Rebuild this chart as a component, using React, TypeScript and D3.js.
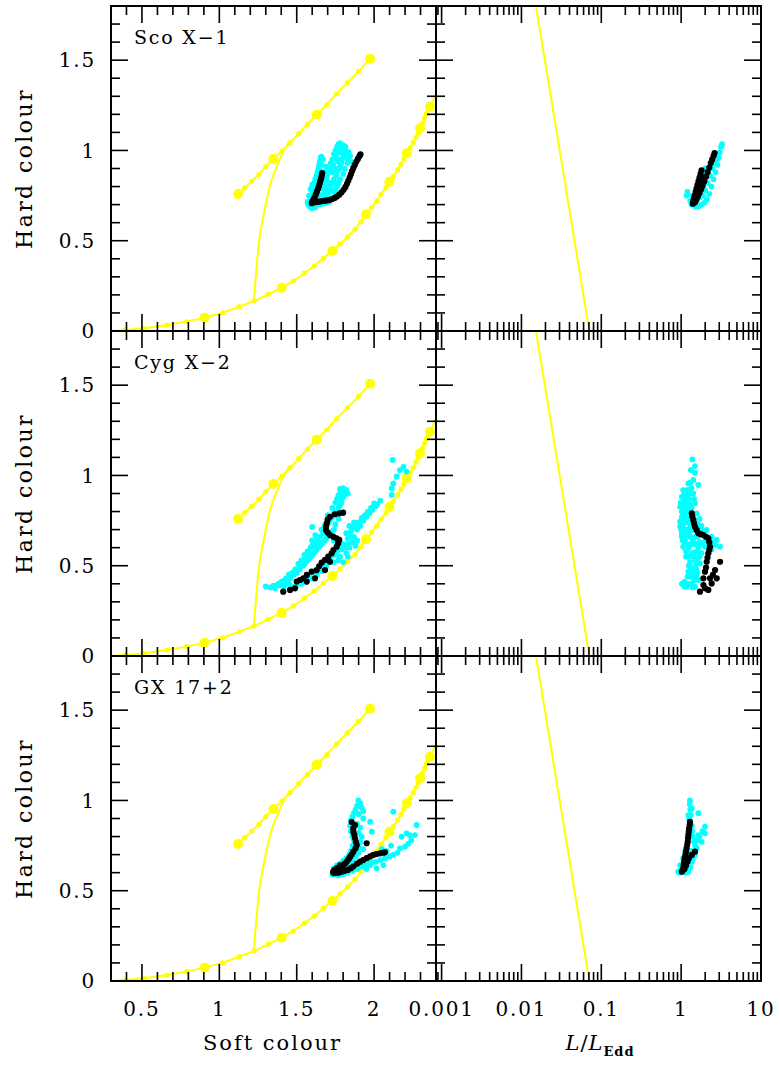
import React from 'react';
import * as d3 from 'd3';

// ---------- model tracks (soft colour, hard colour) ----------
const upperTrack: [number, number][] = [
  [1.121, 0.759], [1.164, 0.794], [1.209, 0.829], [1.256, 0.868], [1.300, 0.910],
  [1.349, 0.953], [1.405, 0.997], [1.457, 1.043], [1.513, 1.093], [1.569, 1.145],
  [1.629, 1.198], [1.694, 1.253], [1.758, 1.314], [1.827, 1.375], [1.900, 1.438],
  [1.974, 1.508],
];
const upperTrackLarge: [number, number][] = [
  [1.121, 0.759], [1.349, 0.953], [1.629, 1.198], [1.974, 1.508],
];
const lowerTrack: [number, number][] = [
  [0.30, 0.0], [0.390, 0.006], [0.515, 0.015], [0.660, 0.033], [0.789, 0.052],
  [0.905, 0.074], [1.022, 0.101], [1.129, 0.135], [1.224, 0.166], [1.316, 0.203],
  [1.403, 0.240], [1.478, 0.277], [1.549, 0.320], [1.614, 0.360], [1.672, 0.403],
  [1.730, 0.443], [1.780, 0.482], [1.829, 0.522], [1.877, 0.563], [1.915, 0.605],
  [1.948, 0.646], [1.984, 0.685], [2.017, 0.720], [2.045, 0.757], [2.077, 0.794],
  [2.099, 0.827], [2.124, 0.855], [2.152, 0.892], [2.174, 0.923], [2.193, 0.953],
  [2.211, 0.984], [2.232, 1.013], [2.253, 1.043], [2.271, 1.073], [2.286, 1.098],
  [2.297, 1.123], [2.312, 1.150], [2.326, 1.178], [2.338, 1.203], [2.350, 1.224],
  [2.361, 1.242], [2.40, 1.31],
];
const lowerTrackLarge: [number, number][] = [
  [0.905, 0.074], [1.403, 0.240], [1.730, 0.443], [1.948, 0.646], [2.099, 0.827],
  [2.211, 0.984], [2.297, 1.123], [2.361, 1.242],
];
const connectorTrack: [number, number][] = [
  [1.224, 0.166], [1.230, 0.245], [1.241, 0.356], [1.258, 0.504], [1.280, 0.615],
  [1.306, 0.726], [1.338, 0.836], [1.375, 0.919], [1.413, 0.993], [1.446, 1.040],
];
// (L/LEdd, hard colour)
const eddLine: [number, number][] = [[0.0152, 1.8], [0.0708, 0.0]];

// ---------- Sco X-1 ----------
const scoColourCyan: [number, number][] = [
  [1.575, 0.70], [1.585, 0.72], [1.59, 0.74], [1.60, 0.76], [1.605, 0.78], [1.61, 0.80],
  [1.615, 0.82], [1.62, 0.84], [1.628, 0.86], [1.635, 0.88], [1.64, 0.90], [1.645, 0.92],
  [1.65, 0.94], [1.655, 0.96], [1.66, 0.965], [1.57, 0.715], [1.58, 0.75], [1.59, 0.785],
  [1.60, 0.81], [1.585, 0.69], [1.60, 0.68], [1.62, 0.685], [1.67, 0.76], [1.68, 0.80],
  [1.69, 0.84], [1.70, 0.87], [1.71, 0.90], [1.72, 0.93], [1.73, 0.95], [1.74, 0.98],
  [1.75, 1.00], [1.76, 1.02], [1.77, 1.035], [1.78, 1.04], [1.68, 0.74], [1.70, 0.76],
  [1.72, 0.80], [1.74, 0.84], [1.76, 0.88], [1.78, 0.92], [1.79, 0.95], [1.80, 0.98],
  [1.82, 0.97], [1.83, 0.95], [1.835, 0.99], [1.81, 1.00], [1.795, 1.02], [1.765, 0.94],
  [1.745, 0.90], [1.73, 0.88], [1.71, 0.82], [1.70, 0.79], [1.69, 0.78], [1.66, 0.74],
  [1.65, 0.75], [1.67, 0.79], [1.68, 0.83], [1.75, 0.78], [1.77, 0.82], [1.66, 0.82],
  [1.67, 0.86], [1.68, 0.88], [1.69, 0.91],
  [1.62, 0.72], [1.63, 0.70], [1.64, 0.73], [1.65, 0.70], [1.67, 0.705], [1.69, 0.71],
  [1.71, 0.715], [1.62, 0.78], [1.63, 0.82], [1.64, 0.86], [1.65, 0.89], [1.66, 0.92],
  [1.67, 0.95], [1.61, 0.76], [1.595, 0.72], [1.675, 0.82], [1.695, 0.86], [1.705, 0.88],
  [1.725, 0.91], [1.735, 0.92], [1.755, 0.96], [1.77, 0.99], [1.785, 1.01], [1.80, 1.03],
  [1.815, 1.02], [1.82, 0.99], [1.805, 0.96], [1.79, 0.93], [1.775, 0.90], [1.755, 0.86],
  [1.735, 0.82], [1.72, 0.78], [1.705, 0.75], [1.74, 0.77], [1.76, 0.80], [1.78, 0.84],
  [1.80, 0.87], [1.81, 0.90], [1.83, 0.93], [1.845, 0.97], [1.85, 0.94],
];
const scoColourBlack: [number, number][] = [
  [1.665, 0.875], [1.662, 0.86], [1.658, 0.845], [1.652, 0.83], [1.648, 0.815], [1.643, 0.80],
  [1.637, 0.785], [1.630, 0.77], [1.623, 0.755], [1.615, 0.74], [1.608, 0.727], [1.600, 0.715],
  [1.598, 0.708], [1.610, 0.712], [1.625, 0.715], [1.640, 0.716], [1.655, 0.718], [1.670, 0.72],
  [1.685, 0.722], [1.700, 0.724], [1.715, 0.727], [1.730, 0.731], [1.745, 0.737], [1.760, 0.745],
  [1.775, 0.755], [1.790, 0.768], [1.803, 0.782], [1.815, 0.798], [1.825, 0.815], [1.833, 0.832],
  [1.842, 0.85], [1.850, 0.868], [1.858, 0.886], [1.866, 0.903], [1.875, 0.92], [1.885, 0.937],
  [1.895, 0.953], [1.905, 0.968], [1.912, 0.978],
];
const scoLumCyan: [number, number][] = [
  [1.17, 0.75], [1.20, 0.77], [1.35, 0.70], [1.50, 0.69], [1.65, 0.69], [1.80, 0.70],
  [1.95, 0.71], [2.10, 0.73], [2.25, 0.76], [2.40, 0.80], [2.55, 0.84], [2.70, 0.88],
  [2.85, 0.92], [2.95, 0.96], [3.05, 0.99], [3.15, 1.02], [3.25, 1.035], [2.80, 0.95],
  [2.60, 0.93], [2.45, 0.90], [2.30, 0.86], [2.15, 0.82], [2.00, 0.78], [1.85, 0.75],
  [1.70, 0.74], [1.55, 0.74], [1.60, 0.79], [1.70, 0.82], [1.80, 0.855], [1.90, 0.88],
  [2.00, 0.90], [1.30, 0.72], [1.38, 0.75],
];
const scoLumBlack: [number, number][] = [
  [1.40, 0.705], [1.42, 0.72], [1.45, 0.735], [1.48, 0.75], [1.52, 0.77], [1.56, 0.79],
  [1.60, 0.81], [1.65, 0.83], [1.70, 0.85], [1.75, 0.87], [1.80, 0.89], [1.50, 0.715],
  [1.55, 0.725], [1.62, 0.745], [1.70, 0.765], [1.78, 0.785], [1.86, 0.805], [1.95, 0.83],
  [2.05, 0.855], [2.15, 0.88], [2.25, 0.905], [2.35, 0.93], [2.45, 0.95], [2.55, 0.97],
  [2.62, 0.985], [1.45, 0.71], [1.52, 0.73], [1.60, 0.76], [1.68, 0.79], [1.76, 0.82],
  [1.84, 0.85],
];

// ---------- Cyg X-2 ----------
const cygColourCyan: [number, number][] = [
  [1.30, 0.385], [1.33, 0.38], [1.36, 0.375], [1.39, 0.39], [1.42, 0.40], [1.44, 0.42],
  [1.40, 0.41], [1.46, 0.43], [1.48, 0.45], [1.45, 0.45], [1.50, 0.46], [1.52, 0.48],
  [1.49, 0.48], [1.54, 0.50], [1.51, 0.51], [1.56, 0.52], [1.53, 0.53], [1.58, 0.54],
  [1.55, 0.56], [1.60, 0.56], [1.57, 0.58], [1.62, 0.58], [1.59, 0.60], [1.64, 0.60],
  [1.61, 0.62], [1.66, 0.62], [1.63, 0.64], [1.68, 0.64], [1.60, 0.64], [1.65, 0.66],
  [1.70, 0.66], [1.62, 0.67], [1.67, 0.68], [1.72, 0.68], [1.60, 0.715], [1.69, 0.70],
  [1.74, 0.70], [1.70, 0.73], [1.75, 0.73], [1.72, 0.76], [1.77, 0.76], [1.70, 0.78],
  [1.74, 0.79], [1.79, 0.79], [1.73, 0.82], [1.77, 0.82], [1.75, 0.85], [1.79, 0.85],
  [1.76, 0.87], [1.80, 0.88], [1.78, 0.90], [1.81, 0.91], [1.80, 0.93], [1.82, 0.92],
  [1.76, 0.58], [1.79, 0.59], [1.82, 0.57], [1.84, 0.60], [1.80, 0.62], [1.86, 0.63],
  [1.83, 0.65], [1.87, 0.66], [1.89, 0.64], [1.85, 0.69], [1.89, 0.70], [1.84, 0.72],
  [1.91, 0.72], [1.87, 0.74], [1.93, 0.75], [1.95, 0.77], [1.97, 0.79], [1.99, 0.81],
  [2.01, 0.83], [2.02, 0.84], [2.04, 0.86], [1.88, 0.61], [1.78, 0.55], [1.74, 0.52],
  [1.80, 0.52], [1.83, 0.55], [1.72, 0.55], [1.69, 0.50], [1.66, 0.47], [1.63, 0.45],
  [1.60, 0.43], [1.56, 0.41], [1.53, 0.40], [1.50, 0.39], [1.47, 0.385],
  [1.35, 0.39], [1.38, 0.40], [1.41, 0.415], [1.43, 0.43], [1.47, 0.46], [1.50, 0.475],
  [1.52, 0.50], [1.55, 0.51], [1.57, 0.53], [1.59, 0.55], [1.61, 0.57], [1.63, 0.59],
  [1.65, 0.61], [1.67, 0.63], [1.69, 0.65], [1.71, 0.67], [1.73, 0.69], [1.66, 0.70],
  [1.68, 0.72], [1.71, 0.745], [1.73, 0.77], [1.76, 0.80], [1.78, 0.835], [1.79, 0.87],
  [1.77, 0.89], [1.81, 0.895], [1.83, 0.90], [1.78, 0.925], [1.60, 0.61], [1.58, 0.57],
  [1.56, 0.55], [1.54, 0.53], [1.64, 0.63], [1.62, 0.61], [1.74, 0.64], [1.76, 0.62],
  [1.78, 0.61], [1.81, 0.60], [1.83, 0.62], [1.85, 0.66], [1.82, 0.68], [1.86, 0.71],
  [1.88, 0.72], [1.90, 0.74], [1.92, 0.765], [1.94, 0.78], [1.96, 0.80], [1.98, 0.82],
  [2.00, 0.845], [1.75, 0.56], [1.77, 0.53], [1.71, 0.52], [1.68, 0.53], [1.65, 0.50],
  [1.62, 0.47], [1.58, 0.44], [1.55, 0.43], [1.45, 0.40], [1.42, 0.385],
  [2.114, 0.892], [2.114, 0.929], [2.124, 0.956], [2.146, 0.993], [2.167, 1.03],
  [2.19, 1.048], [2.21, 1.021], [2.12, 1.086],
];
const cygColourBlack: [number, number][] = [
  [1.715, 0.771], [1.747, 0.785], [1.775, 0.790], [1.80, 0.794], [1.700, 0.755],
  [1.694, 0.735], [1.689, 0.715], [1.689, 0.698], [1.700, 0.684], [1.715, 0.670],
  [1.737, 0.660], [1.758, 0.652], [1.775, 0.643], [1.768, 0.625], [1.758, 0.605],
  [1.737, 0.587], [1.726, 0.569], [1.704, 0.550], [1.683, 0.532], [1.661, 0.517],
  [1.715, 0.522], [1.645, 0.497], [1.629, 0.476], [1.683, 0.476], [1.597, 0.467],
  [1.565, 0.449], [1.543, 0.430], [1.618, 0.430], [1.521, 0.421], [1.500, 0.412],
  [1.565, 0.412], [1.489, 0.375], [1.457, 0.366], [1.413, 0.356],
];
const cygLumCyan: [number, number][] = [
  [1.38, 1.089], [1.49, 1.052], [1.32, 1.03], [1.49, 1.015], [1.42, 0.975], [1.23, 0.956],
  [1.64, 0.947], [1.35, 0.93], [1.06, 0.919], [1.17, 0.892], [1.42, 0.901], [1.02, 0.882],
  [1.10, 0.87], [1.25, 0.87], [1.49, 0.846], [0.99, 0.85], [1.17, 0.827], [0.97, 0.827],
  [1.35, 0.82], [1.57, 0.79], [1.02, 0.80], [1.02, 0.771], [1.29, 0.771], [1.12, 0.78],
  [1.45, 0.76], [1.70, 0.76], [0.97, 0.745], [1.15, 0.74], [1.60, 0.735], [0.97, 0.716],
  [1.30, 0.72], [1.80, 0.72], [1.42, 0.698], [2.09, 0.698], [1.10, 0.70], [1.95, 0.69],
  [1.02, 0.68], [1.25, 0.68], [2.41, 0.661], [1.02, 0.661], [1.60, 0.66], [2.79, 0.643],
  [1.12, 0.64], [1.40, 0.64], [2.0, 0.64], [2.66, 0.615], [3.07, 0.605], [1.06, 0.605],
  [1.64, 0.605], [1.99, 0.605], [1.25, 0.60], [2.4, 0.59], [1.15, 0.58], [1.50, 0.575],
  [1.80, 0.57], [1.23, 0.55], [1.42, 0.55], [1.60, 0.54], [1.29, 0.52], [1.72, 0.513],
  [1.50, 0.50], [1.29, 0.495], [1.23, 0.467], [1.42, 0.458], [1.29, 0.439], [1.64, 0.421],
  [1.10, 0.41], [1.06, 0.402], [1.17, 0.384], [1.49, 0.384], [1.35, 0.40], [1.55, 0.44],
  [1.02, 0.40], [1.10, 0.385],
  [1.05, 0.84], [1.08, 0.81], [1.12, 0.85], [1.20, 0.80], [1.25, 0.75], [1.35, 0.75],
  [1.40, 0.78], [1.50, 0.72], [1.55, 0.70], [1.65, 0.72], [1.75, 0.70], [1.85, 0.68],
  [2.2, 0.65], [2.5, 0.63], [1.05, 0.72], [1.08, 0.66], [1.15, 0.67], [1.20, 0.70],
  [1.30, 0.66], [1.35, 0.62], [1.45, 0.62], [1.55, 0.62], [1.70, 0.63], [1.85, 0.62],
  [1.10, 0.62], [1.15, 0.55], [1.35, 0.57], [1.50, 0.53], [1.25, 0.50], [1.38, 0.48],
  [1.55, 0.48], [1.20, 0.44], [1.35, 0.44], [1.45, 0.42], [1.25, 0.40], [1.40, 0.38],
  [1.60, 0.46], [1.30, 0.90], [1.20, 0.92], [1.10, 0.90], [1.28, 0.84], [1.30, 0.96],
  [1.45, 0.87], [1.60, 0.58], [1.70, 0.55], [1.10, 0.76], [1.22, 0.62], [1.02, 0.74],
  [1.00, 0.70], [1.05, 0.64], [1.40, 0.70], [1.48, 0.66], [1.65, 0.68],
];
const cygLumBlack: [number, number][] = [
  [1.36, 0.79], [1.38, 0.772], [1.42, 0.753], [1.45, 0.735], [1.49, 0.716], [1.56, 0.698],
  [1.64, 0.68], [1.76, 0.675], [1.90, 0.67], [2.05, 0.66], [2.19, 0.652], [2.25, 0.63],
  [2.30, 0.605], [2.25, 0.587], [2.19, 0.569], [2.14, 0.545], [2.09, 0.522], [3.07, 0.522],
  [2.66, 0.476], [2.05, 0.49], [1.99, 0.467], [1.90, 0.43], [2.79, 0.43], [2.41, 0.402],
  [1.90, 0.393], [1.72, 0.356], [2.19, 0.366], [2.0, 0.375], [2.5, 0.45], [2.3, 0.43],
];

// ---------- GX 17+2 ----------
const gxColourCyan: [number, number][] = [
  [1.898, 1.00], [1.91, 0.985], [1.89, 0.97], [1.92, 0.96], [1.88, 0.95], [1.93, 0.94],
  [1.87, 0.93], [1.90, 0.925], [1.86, 0.91], [1.93, 0.90], [1.85, 0.89], [1.974, 0.882],
  [1.89, 0.87], [1.845, 0.86], [1.91, 0.85], [1.85, 0.83], [1.985, 0.827], [1.90, 0.82],
  [1.86, 0.80], [1.92, 0.80], [1.87, 0.78], [1.91, 0.77], [1.86, 0.75], [1.90, 0.74],
  [1.93, 0.73], [1.85, 0.72], [1.90, 0.71], [1.84, 0.70], [1.88, 0.69], [1.82, 0.68],
  [1.86, 0.67], [1.80, 0.665], [1.84, 0.655], [1.78, 0.65], [1.82, 0.64], [1.76, 0.64],
  [1.80, 0.625], [1.74, 0.625], [1.75, 0.59], [1.73, 0.59], [1.77, 0.585], [1.80, 0.59],
  [1.83, 0.60], [1.86, 0.61], [1.89, 0.62], [1.92, 0.635], [1.95, 0.645], [1.98, 0.655],
  [2.01, 0.66], [2.04, 0.67], [2.07, 0.68], [2.10, 0.69], [2.124, 0.698], [2.15, 0.71],
  [2.167, 0.735], [2.20, 0.744], [2.22, 0.76], [2.21, 0.818], [2.178, 0.799], [2.23, 0.808],
  [2.264, 0.808], [2.275, 0.864], [2.124, 0.938], [2.06, 0.642], [2.017, 0.624],
  [1.974, 0.642], [1.95, 0.62], [2.08, 0.72], [2.05, 0.73], [2.11, 0.75], [2.24, 0.78],
];
const gxColourBlack: [number, number][] = [
  [1.855, 0.88], [1.877, 0.864], [1.866, 0.845], [1.866, 0.827], [1.872, 0.81], [1.877, 0.79],
  [1.882, 0.77], [1.888, 0.753], [1.88, 0.735], [1.866, 0.716], [1.855, 0.70], [1.845, 0.688],
  [1.835, 0.675], [1.823, 0.661], [1.812, 0.65], [1.801, 0.642], [1.79, 0.633], [1.78, 0.624],
  [1.77, 0.615], [1.76, 0.605], [1.75, 0.60], [1.74, 0.598], [1.735, 0.604], [1.77, 0.60],
  [1.79, 0.605], [1.81, 0.61], [1.83, 0.615], [1.85, 0.625], [1.866, 0.635], [1.89, 0.65],
  [1.91, 0.661], [1.93, 0.67], [1.952, 0.68], [1.975, 0.69], [1.995, 0.698], [2.015, 0.703],
  [2.038, 0.707], [2.06, 0.711], [2.07, 0.713], [1.952, 0.763], [1.76, 0.625], [1.78, 0.64],
  [1.745, 0.615],
];
const gxLumCyan: [number, number][] = [
  [1.29, 1.0], [1.28, 0.98], [1.36, 0.956], [1.30, 0.95], [1.64, 0.929], [1.23, 0.919],
  [1.32, 0.92], [1.26, 0.90], [1.99, 0.855], [1.36, 0.86], [1.64, 0.808], [1.99, 0.818],
  [1.81, 0.771], [1.40, 0.80], [1.57, 0.735], [1.49, 0.698], [1.36, 0.661], [1.12, 0.716],
  [1.06, 0.680], [0.97, 0.642], [0.92, 0.605], [1.23, 0.605], [1.30, 0.63], [1.40, 0.68],
  [1.50, 0.75], [1.45, 0.77], [1.30, 0.70], [1.00, 0.62], [0.95, 0.60], [1.15, 0.60],
  [1.20, 0.62], [1.35, 0.72], [1.70, 0.80], [1.85, 0.83], [1.60, 0.78], [1.38, 0.83],
];
const gxLumBlack: [number, number][] = [
  [1.29, 0.882], [1.28, 0.865], [1.26, 0.846], [1.245, 0.827], [1.23, 0.808], [1.22, 0.79],
  [1.21, 0.771], [1.19, 0.753], [1.17, 0.735], [1.15, 0.716], [1.13, 0.698], [1.11, 0.68],
  [1.09, 0.661], [1.075, 0.642], [1.06, 0.624], [1.04, 0.61], [1.02, 0.605], [1.36, 0.698],
  [1.49, 0.716], [1.25, 0.68], [1.20, 0.66], [1.15, 0.64], [1.10, 0.62],
];

const sourceNames = ['Sco X\u22121', 'Cyg X\u22122', 'GX 17+2'];
const hardTickLabels = ['0', '0.5', '1', '1.5'];
const softTickLabels = ['0.5', '1', '1.5', '2'];
const lumTickLabels = ['0.001', '0.01', '0.1', '1', '10'];

const panels = [
  { name: sourceNames[0], cc: scoColourCyan, cb: scoColourBlack, lc: scoLumCyan, lb: scoLumBlack },
  { name: sourceNames[1], cc: cygColourCyan, cb: cygColourBlack, lc: cygLumCyan, lb: cygLumBlack },
  { name: sourceNames[2], cc: gxColourCyan, cb: gxColourBlack, lc: gxLumCyan, lb: gxLumBlack },
];

const FONT = 'DejaVu Serif';
const COLX = [111, 436];
const PW = 325;
const ROWY = [6, 331, 656];
const PH = 325;
const YELLOW = '#ffff00';
const CYAN = '#00ffff';

const xSoft = d3.scaleLinear().domain([0.3, 2.4]).range([0, PW]);
const xLum = d3.scaleLog().domain([Math.pow(10, -3.07), 10]).range([0, PW]);
const yHard = d3.scaleLinear().domain([0, 1.8]).range([PH, 0]);

function Ticks({ xs }: { xs: { v: number; major: boolean }[] }) {
  const ys: { v: number; major: boolean }[] = [];
  for (let i = 0; i <= 18; i++) ys.push({ v: i / 10, major: i % 5 === 0 });
  const M = 17, m = 9;
  const els: JSX.Element[] = [];
  ys.forEach((t, i) => {
    const y = yHard(t.v);
    const L = t.major ? M : m;
    els.push(<line key={'yl' + i} x1={0} x2={L} y1={y} y2={y} />);
    els.push(<line key={'yr' + i} x1={PW} x2={PW - L} y1={y} y2={y} />);
  });
  xs.forEach((t, i) => {
    const L = t.major ? M : m;
    els.push(<line key={'xb' + i} x1={t.v} x2={t.v} y1={PH} y2={PH - L} />);
    els.push(<line key={'xt' + i} x1={t.v} x2={t.v} y1={0} y2={L} />);
  });
  return <g stroke="#000" strokeWidth={1.6}>{els}</g>;
}

export default function App() {
  const softTicks: { v: number; major: boolean }[] = [];
  for (let i = 3; i <= 24; i++) softTicks.push({ v: xSoft(i / 10), major: i % 5 === 0 });
  const lumTicks: { v: number; major: boolean }[] = [];
  const [lo, hi] = xLum.domain();
  for (let d = -4; d <= 1; d++) {
    for (let k = 1; k <= 9; k++) {
      const v = k * Math.pow(10, d);
      if (v >= lo * 0.999 && v <= hi * 1.001) lumTicks.push({ v: xLum(v), major: k === 1 });
    }
  }
  const lineSoft = d3.line<[number, number]>().x(d => xSoft(d[0])).y(d => yHard(d[1]));
  const lineSmooth = d3.line<[number, number]>().x(d => xSoft(d[0])).y(d => yHard(d[1])).curve(d3.curveCatmullRom);
  const lineLum = d3.line<[number, number]>().x(d => xLum(d[0])).y(d => yHard(d[1]));

  const txt = { fontFamily: FONT, fontSize: 20, letterSpacing: 1.8 } as React.CSSProperties;

  return (
    <svg width={780} height={1068} style={{ position: 'absolute', left: 0, top: 0, background: '#fff' }}>
      <defs>
        <clipPath id="clipP"><rect x={0} y={0} width={PW} height={PH} /></clipPath>
      </defs>
      <rect x={0} y={0} width={780} height={1068} fill="#fff" />
      {panels.map((p, r) => (
        <g key={r}>
          {/* left colour-colour panel */}
          <g transform={`translate(${COLX[0]},${ROWY[r]})`}>
            <g clipPath="url(#clipP)">
              <path d={lineSoft(lowerTrack) || ''} fill="none" stroke={YELLOW} strokeWidth={2} />
              <path d={lineSoft(upperTrack) || ''} fill="none" stroke={YELLOW} strokeWidth={2} />
              <path d={lineSmooth(connectorTrack) || ''} fill="none" stroke={YELLOW} strokeWidth={2} />
            </g>
            {lowerTrack.slice(1, -1).map((d, i) => (
              <circle key={'ls' + i} cx={xSoft(d[0])} cy={yHard(d[1])} r={2.6} fill={YELLOW} />
            ))}
            {upperTrack.map((d, i) => (
              <circle key={'us' + i} cx={xSoft(d[0])} cy={yHard(d[1])} r={2.6} fill={YELLOW} />
            ))}
            {lowerTrackLarge.concat(upperTrackLarge).map((d, i) => (
              <circle key={'lg' + i} cx={xSoft(d[0])} cy={yHard(d[1])} r={5} fill={YELLOW} />
            ))}
            {p.cc.map((d, i) => (
              <circle key={'cc' + i} cx={xSoft(d[0])} cy={yHard(d[1])} r={2.9} fill={CYAN} />
            ))}
            {p.cb.map((d, i) => (
              <circle key={'cb' + i} cx={xSoft(d[0])} cy={yHard(d[1])} r={3.1} fill="#000" />
            ))}
            <Ticks xs={softTicks} />
            <text x={23} y={38} style={{ ...txt, fontSize: 19 }}>{p.name}</text>
          </g>
          {/* right L/LEdd panel */}
          <g transform={`translate(${COLX[1]},${ROWY[r]})`}>
            <g clipPath="url(#clipP)">
              <path d={lineLum(eddLine) || ''} fill="none" stroke={YELLOW} strokeWidth={2} />
            </g>
            {p.lc.map((d, i) => (
              <circle key={'lc' + i} cx={xLum(d[0])} cy={yHard(d[1])} r={2.9} fill={CYAN} />
            ))}
            {p.lb.map((d, i) => (
              <circle key={'lb' + i} cx={xLum(d[0])} cy={yHard(d[1])} r={3.1} fill="#000" />
            ))}
            <Ticks xs={lumTicks} />
          </g>
          {/* y tick labels */}
          {hardTickLabels.map((t, i) => (
            <text key={'yt' + i} x={96} y={ROWY[r] + yHard(+t)} dy="0.36em" textAnchor="end" style={txt}>{t}</text>
          ))}
          <text transform={`translate(32,${ROWY[r] + PH / 2}) rotate(-90)`} textAnchor="middle"
            style={{ ...txt, fontSize: 22, letterSpacing: 2.4 }}>Hard colour</text>
        </g>
      ))}
      {/* frames */}
      <g fill="none" stroke="#000" strokeWidth={2}>
        {ROWY.map((y, r) => COLX.map((x, c) => (
          <rect key={r + '-' + c} x={x} y={y} width={PW} height={PH} />
        )))}
      </g>
      {/* bottom tick labels */}
      {softTickLabels.map((t, i) => (
        <text key={'st' + i} x={COLX[0] + xSoft(+t)} y={1016} textAnchor="middle" style={txt}>{t}</text>
      ))}
      {lumTickLabels.map((t, i) => (
        <text key={'lt' + i} x={COLX[1] + xLum(+t)} y={1016} textAnchor="middle" style={txt}>{t}</text>
      ))}
      <text x={COLX[0] + PW / 2 - 1} y={1050} textAnchor="middle" style={{ ...txt, fontSize: 21, letterSpacing: 2 }}>Soft colour</text>
      <text x={COLX[1] + 164} y={1050} textAnchor="middle" style={{ ...txt, fontSize: 21, letterSpacing: 1 }}>
        <tspan fontStyle="italic">L</tspan>
        <tspan>/</tspan>
        <tspan fontStyle="italic">L</tspan>
        <tspan dy={6} fontSize={13} fontWeight="bold">Edd</tspan>
      </text>
    </svg>
  );
}
